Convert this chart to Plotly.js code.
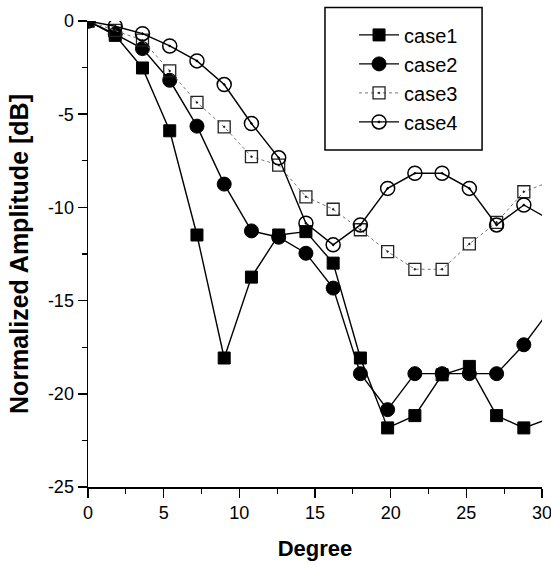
<!DOCTYPE html>
<html>
<head>
<meta charset="utf-8">
<script src="https://cdn.plot.ly/plotly-3.0.1.min.js"></script>
<style>html,body{margin:0;padding:0;background:#fff;}#chart{width:551px;height:565px;}</style>
</head>
<body>
<div id="chart"></div>
<script>
// Degrees (last point lies just beyond the 30-degree edge, clipped by the axis range)
const degree = [0, 1.8, 3.6, 5.4, 7.2, 9, 10.8, 12.6, 14.4, 16.2, 18, 19.8, 21.6, 23.4, 25.2, 27, 28.8, 30.6];
const case1 = [0, -0.77, -2.52, -5.89, -11.48, -18.08, -13.74, -11.48, -11.3, -12.99, -18.08, -21.83, -21.17, -18.98, -18.53, -21.17, -21.83, -21.3];
const case2 = [0, -0.7, -1.48, -3.18, -5.64, -8.75, -11.26, -11.6, -12.46, -14.33, -18.92, -20.85, -18.92, -18.92, -18.92, -18.92, -17.37, -15.4];
const case3 = [0, -0.5, -1.03, -2.68, -4.37, -5.68, -7.28, -7.73, -9.43, -10.1, -11.2, -12.37, -13.32, -13.32, -11.96, -10.8, -9.16, -8.6];
const case4 = [0, -0.28, -0.68, -1.34, -2.14, -3.41, -5.5, -7.34, -10.85, -12.01, -10.94, -8.98, -8.17, -8.17, -8.98, -10.94, -9.87, -10.7];
const seriesNames = ['case1', 'case2', 'case3', 'case4'];
const xTickVals = [0, 5, 10, 15, 20, 25, 30];
const yTickVals = [0, -5, -10, -15, -20, -25];

const font = '"Liberation Sans", Arial, sans-serif';

const traces = [
  {x: degree, y: case1, name: seriesNames[0], mode: 'lines+markers',
   line: {color: '#000', width: 1.4},
   marker: {symbol: 'square', size: 12, color: '#000', line: {color: '#000', width: 1}}},
  {x: degree, y: case2, name: seriesNames[1], mode: 'lines+markers',
   line: {color: '#000', width: 1.4},
   marker: {symbol: 'circle', size: 14, color: '#000', line: {color: '#000', width: 1}}},
  {x: degree, y: case3, name: seriesNames[2], mode: 'lines+markers',
   line: {color: '#777', width: 1, dash: 'dot'},
   marker: {symbol: 'square-open-dot', size: 12, color: '#222', line: {color: '#222', width: 1.3}}},
  {x: degree, y: case4, name: seriesNames[3], mode: 'lines+markers',
   line: {color: '#000', width: 1.4},
   marker: {symbol: 'circle-open-dot', size: 14, color: '#000', line: {color: '#000', width: 1.5}}}
];

const layout = {
  width: 551, height: 565,
  margin: {l: 88, r: 9, t: 21, b: 78},
  paper_bgcolor: '#fff', plot_bgcolor: '#fff',
  showlegend: true,
  legend: {
    x: 0.586, y: 1.012, xanchor: 'left', yanchor: 'top',
    bgcolor: 'rgba(0,0,0,0)', borderwidth: 0,
    font: {family: font, size: 20, color: '#000'},
    itemwidth: 40
  },
  shapes: [{
    type: 'rect', xref: 'paper', yref: 'paper',
    x0: 0.522, x1: 0.868, y0: 0.723, y1: 1.029,
    line: {color: '#000', width: 1.5}, fillcolor: 'rgba(0,0,0,0)'
  }],
  xaxis: {
    range: [0, 30], tickvals: xTickVals, ticktext: xTickVals.map(String),
    showgrid: false, zeroline: false, showline: true, linecolor: '#000', linewidth: 1.5,
    ticks: 'outside', ticklen: 9, tickwidth: 1.5, tickcolor: '#000',
    ticklabeloverflow: 'allow',
    minor: {dtick: 2.5, tick0: 0, ticks: 'outside', ticklen: 5, tickwidth: 1.3, tickcolor: '#000', showgrid: false},
    tickfont: {family: font, size: 18, color: '#000'},
    title: {text: 'Degree', font: {family: font, size: 22, color: '#000', weight: 'bold'}, standoff: 18}
  },
  yaxis: {
    range: [-25, 0], tickvals: yTickVals, ticktext: yTickVals.map(String),
    showgrid: false, zeroline: false, showline: true, linecolor: '#000', linewidth: 1.5,
    ticks: 'outside', ticklen: 9, tickwidth: 1.5, tickcolor: '#000',
    ticklabeloverflow: 'allow',
    minor: {dtick: 2.5, tick0: 0, ticks: 'outside', ticklen: 5, tickwidth: 1.3, tickcolor: '#000', showgrid: false},
    tickfont: {family: font, size: 18, color: '#000'},
    title: {text: 'Normalized Amplitude [dB]', font: {family: font, size: 25, color: '#000', weight: 'bold'}, standoff: 12}
  }
};

Plotly.newPlot('chart', traces, layout, {displayModeBar: false, staticPlot: true});
</script>
</body>
</html>
